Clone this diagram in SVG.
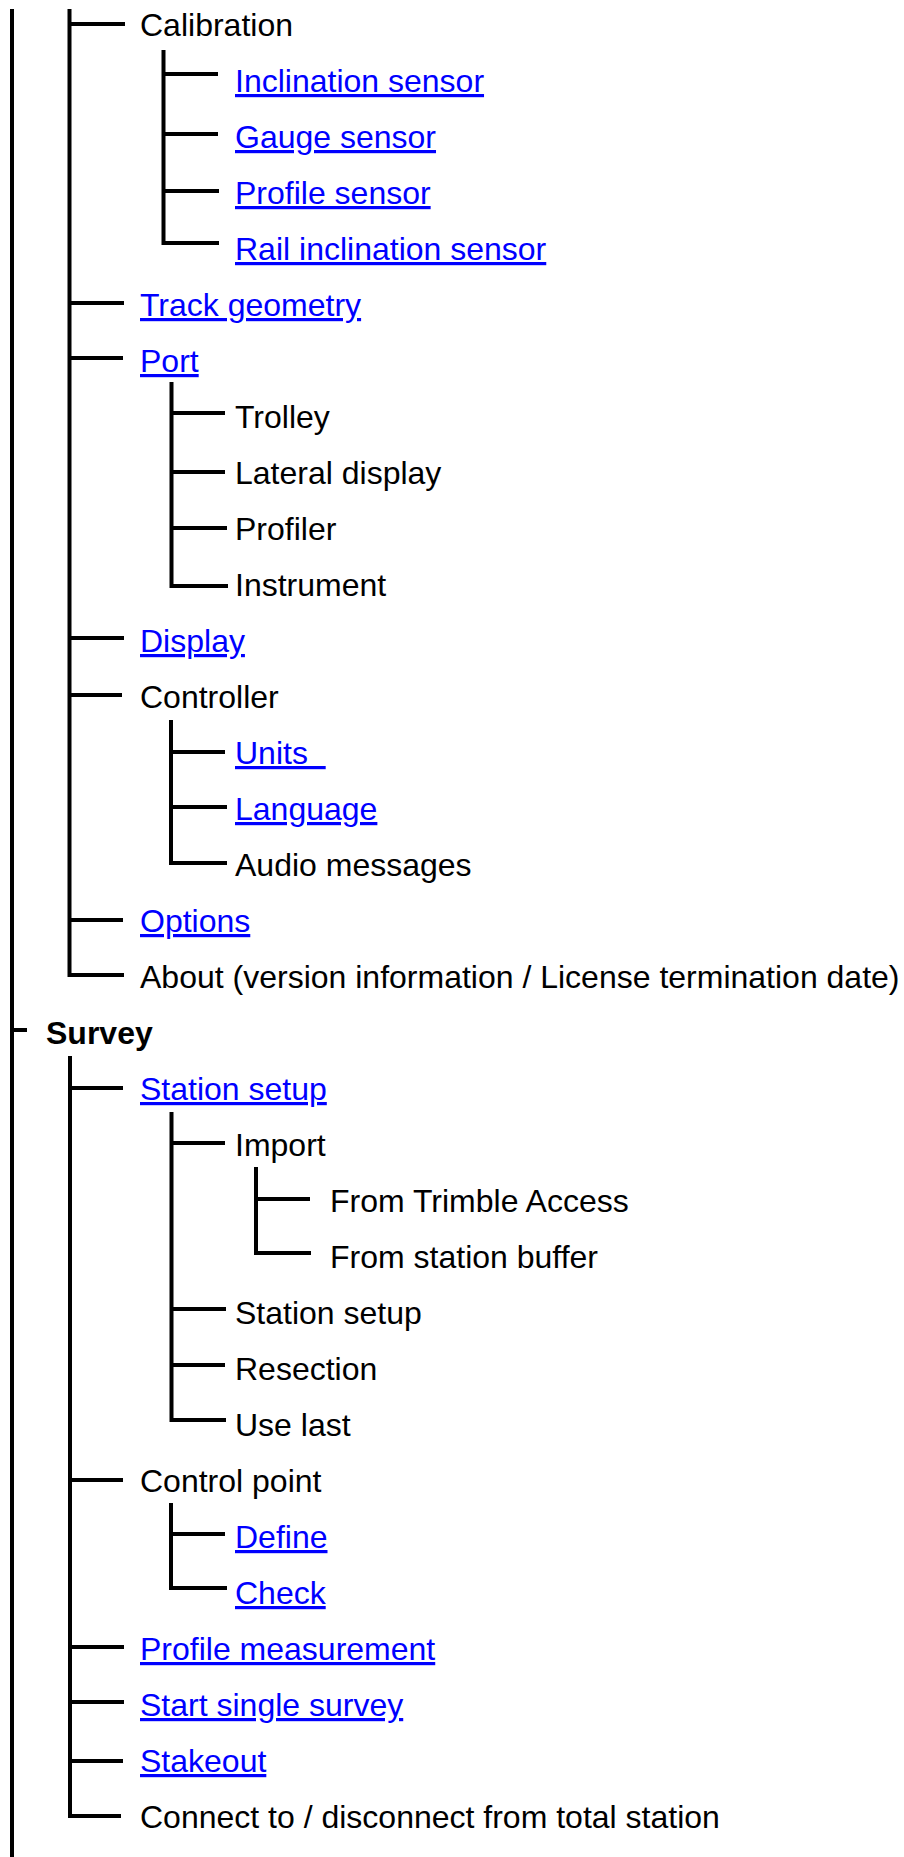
<svg xmlns="http://www.w3.org/2000/svg" width="904" height="1857" viewBox="0 0 904 1857">
<style>
  .t { font-family: "Liberation Sans", Arial, sans-serif; font-size: 32px; fill: #000; }
  .lk { fill: #0000FF; text-decoration: underline; }
  .b { font-weight: bold; }
  .c line { stroke: #000; stroke-width: 4; stroke-linecap: butt; }
</style>
<rect width="904" height="1857" fill="#fff"/>
<g id="connectors" class="c">
  <line x1="12" y1="9" x2="12" y2="1857"/>
  <line x1="12" y1="1030" x2="27" y2="1030"/>
  <!-- settings level 1 -->
  <line x1="69.5" y1="9" x2="69.5" y2="977"/>
  <line x1="69.5" y1="24" x2="125" y2="24"/>
  <line x1="69.5" y1="303" x2="124" y2="303"/>
  <line x1="69.5" y1="358" x2="123" y2="358"/>
  <line x1="69.5" y1="638" x2="124" y2="638"/>
  <line x1="69.5" y1="695" x2="122" y2="695"/>
  <line x1="69.5" y1="920" x2="123" y2="920"/>
  <line x1="69.5" y1="975" x2="124" y2="975"/>
  <!-- calibration children -->
  <line x1="163.5" y1="50" x2="163.5" y2="245"/>
  <line x1="163.5" y1="74" x2="218" y2="74"/>
  <line x1="163.5" y1="134" x2="218" y2="134"/>
  <line x1="163.5" y1="191" x2="219" y2="191"/>
  <line x1="163.5" y1="243" x2="219" y2="243"/>
  <!-- port children -->
  <line x1="171.5" y1="382" x2="171.5" y2="588"/>
  <line x1="171.5" y1="413" x2="225" y2="413"/>
  <line x1="171.5" y1="472" x2="225" y2="472"/>
  <line x1="171.5" y1="528" x2="227" y2="528"/>
  <line x1="171.5" y1="586" x2="228" y2="586"/>
  <!-- controller children -->
  <line x1="171" y1="720" x2="171" y2="865"/>
  <line x1="171" y1="752" x2="225" y2="752"/>
  <line x1="171" y1="807" x2="227" y2="807"/>
  <line x1="171" y1="863" x2="227" y2="863"/>
  <!-- survey level 1 -->
  <line x1="70" y1="1056" x2="70" y2="1818"/>
  <line x1="70" y1="1088" x2="123" y2="1088"/>
  <line x1="70" y1="1480" x2="123" y2="1480"/>
  <line x1="70" y1="1647" x2="124" y2="1647"/>
  <line x1="70" y1="1702" x2="124" y2="1702"/>
  <line x1="70" y1="1761" x2="123" y2="1761"/>
  <line x1="70" y1="1816" x2="121" y2="1816"/>
  <!-- station setup children -->
  <line x1="171.5" y1="1112" x2="171.5" y2="1422"/>
  <line x1="171.5" y1="1143" x2="225" y2="1143"/>
  <line x1="171.5" y1="1309" x2="226" y2="1309"/>
  <line x1="171.5" y1="1365" x2="225" y2="1365"/>
  <line x1="171.5" y1="1420" x2="226" y2="1420"/>
  <!-- import children -->
  <line x1="256" y1="1167" x2="256" y2="1255"/>
  <line x1="256" y1="1199" x2="310" y2="1199"/>
  <line x1="256" y1="1253" x2="311" y2="1253"/>
  <!-- control point children -->
  <line x1="171" y1="1503" x2="171" y2="1590"/>
  <line x1="171" y1="1534" x2="225" y2="1534"/>
  <line x1="171" y1="1588" x2="227" y2="1588"/>
</g>
<g id="n-calibration"><text class="t" x="140" y="36">Calibration</text></g>
<g id="n-inclination-sensor"><text class="t lk" x="235" y="92">Inclination sensor</text></g>
<g id="n-gauge-sensor"><text class="t lk" x="235" y="148">Gauge sensor</text></g>
<g id="n-profile-sensor"><text class="t lk" x="235" y="204">Profile sensor</text></g>
<g id="n-rail-inclination-sensor"><text class="t lk" x="235" y="260">Rail inclination sensor</text></g>
<g id="n-track-geometry"><text class="t lk" x="140" y="316">Track geometry</text></g>
<g id="n-port"><text class="t lk" x="140" y="372">Port</text></g>
<g id="n-trolley"><text class="t" x="235" y="428">Trolley</text></g>
<g id="n-lateral-display"><text class="t" x="235" y="484">Lateral display</text></g>
<g id="n-profiler"><text class="t" x="235" y="540">Profiler</text></g>
<g id="n-instrument"><text class="t" x="235" y="596">Instrument</text></g>
<g id="n-display"><text class="t lk" x="140" y="652">Display</text></g>
<g id="n-controller"><text class="t" x="140" y="708">Controller</text></g>
<g id="n-units"><text class="t lk" x="235" y="764" xml:space="preserve">Units&#160;&#160;</text></g>
<g id="n-language"><text class="t lk" x="235" y="820">Language</text></g>
<g id="n-audio-messages"><text class="t" x="235" y="876">Audio messages</text></g>
<g id="n-options"><text class="t lk" x="140" y="932">Options</text></g>
<g id="n-about"><text class="t" x="140" y="988">About (version information / License termination date)</text></g>
<g id="n-survey"><text class="t b" x="46" y="1044">Survey</text></g>
<g id="n-station-setup"><text class="t lk" x="140" y="1100">Station setup</text></g>
<g id="n-import"><text class="t" x="235" y="1156">Import</text></g>
<g id="n-from-trimble-access"><text class="t" x="330" y="1212">From Trimble Access</text></g>
<g id="n-from-station-buffer"><text class="t" x="330" y="1268">From station buffer</text></g>
<g id="n-station-setup-2"><text class="t" x="235" y="1324">Station setup</text></g>
<g id="n-resection"><text class="t" x="235" y="1380">Resection</text></g>
<g id="n-use-last"><text class="t" x="235" y="1436">Use last</text></g>
<g id="n-control-point"><text class="t" x="140" y="1492">Control point</text></g>
<g id="n-define"><text class="t lk" x="235" y="1548">Define</text></g>
<g id="n-check"><text class="t lk" x="235" y="1604">Check</text></g>
<g id="n-profile-measurement"><text class="t lk" x="140" y="1660">Profile measurement</text></g>
<g id="n-start-single-survey"><text class="t lk" x="140" y="1716">Start single survey</text></g>
<g id="n-stakeout"><text class="t lk" x="140" y="1772">Stakeout</text></g>
<g id="n-connect"><text class="t" x="140" y="1828">Connect to / disconnect from total station</text></g>
</svg>
